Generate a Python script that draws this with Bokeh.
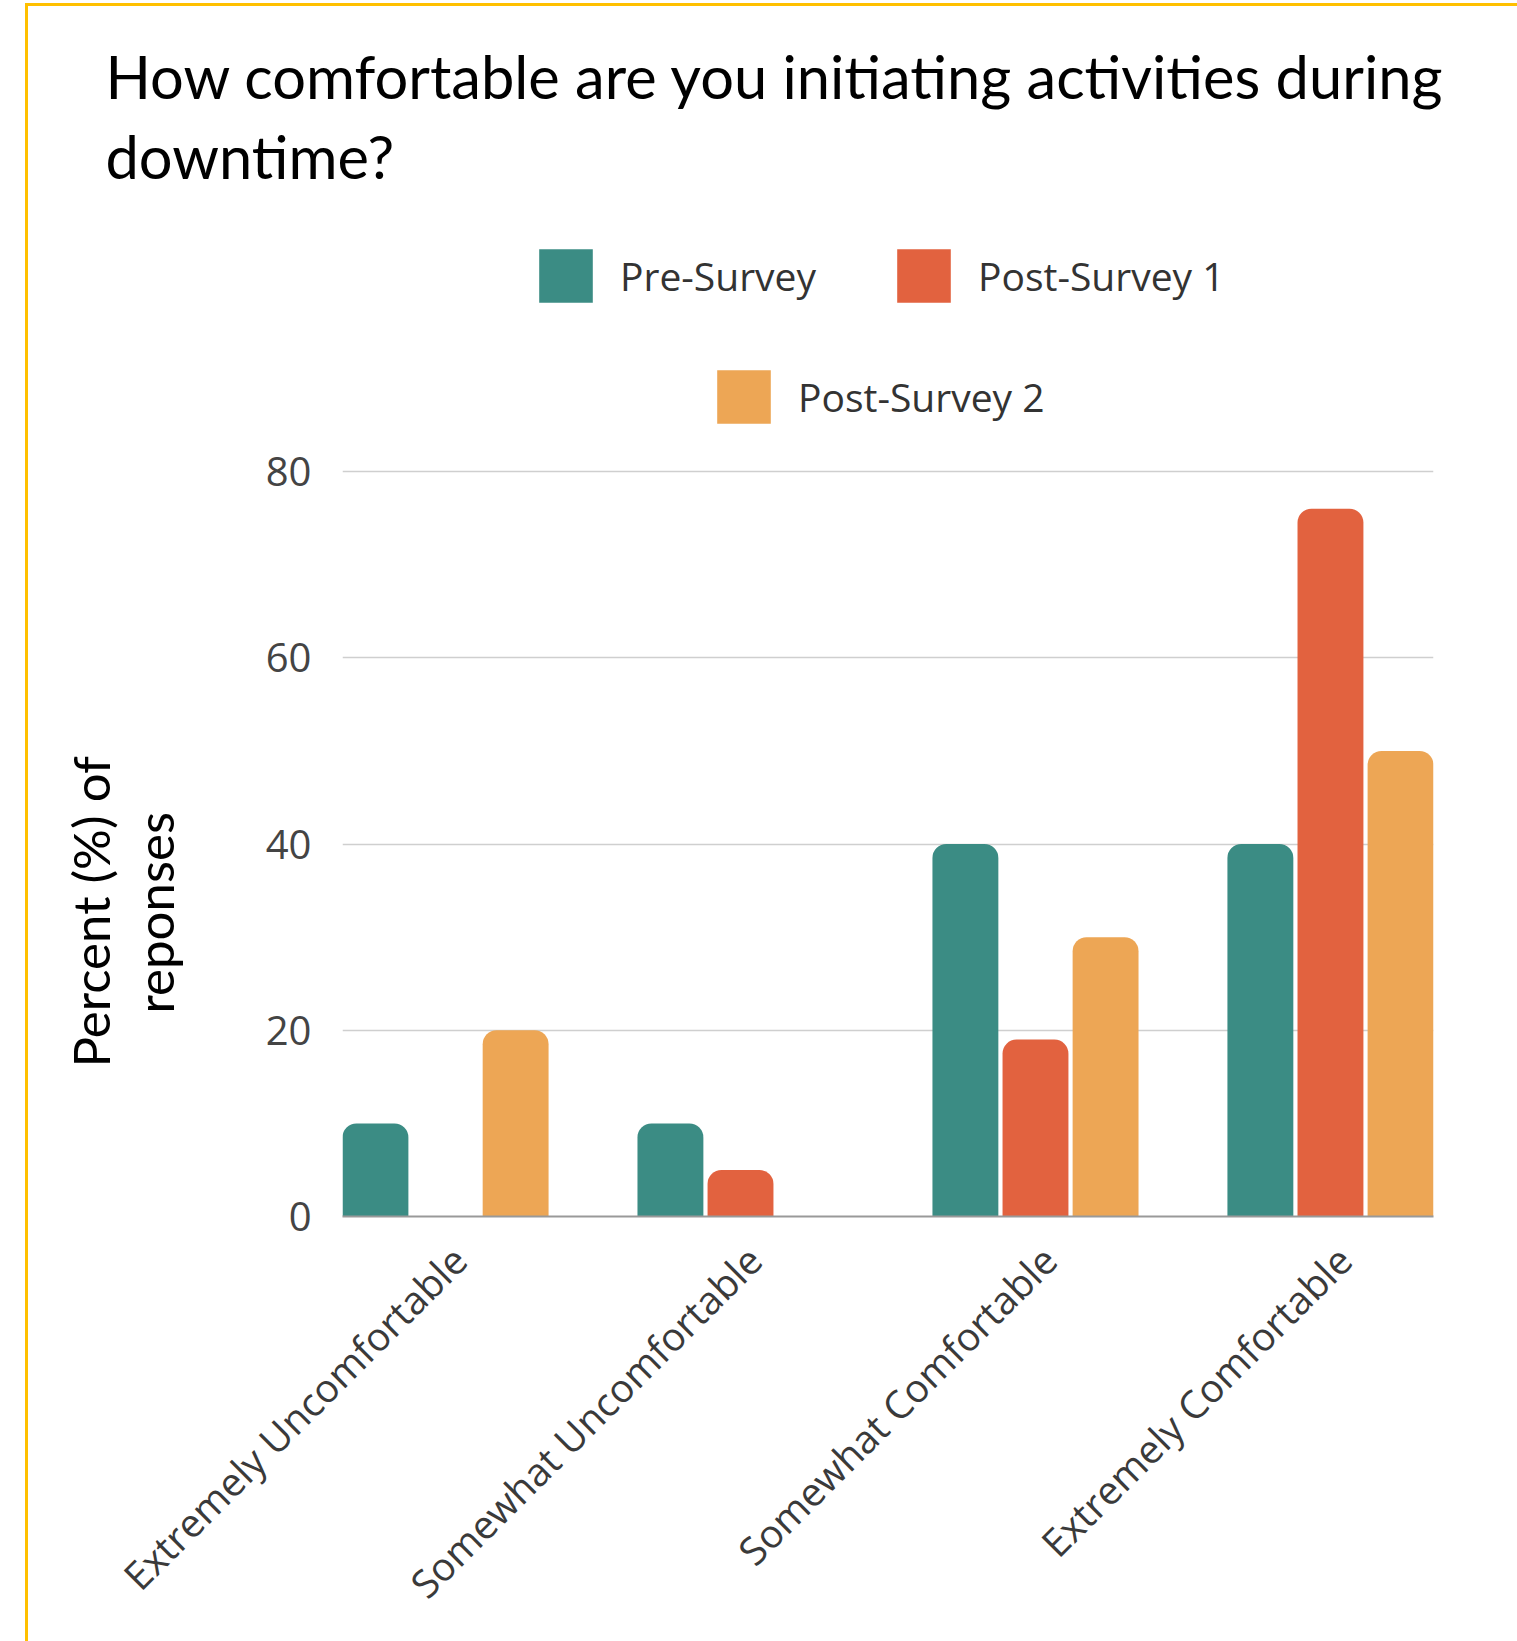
import math
from bokeh.plotting import figure
from bokeh.models import (Range1d, Legend, LegendItem, Title, FixedTicker,
                          ColumnDataSource, LinearAxis)
from bokeh.embed import file_html
from bokeh.resources import INLINE

# ---------------- data ----------------
categories = ["Extremely Uncomfortable", "Somewhat Uncomfortable",
              "Somewhat Comfortable", "Extremely Comfortable"]
series_names = ["Pre-Survey", "Post-Survey 1", "Post-Survey 2"]
pre_survey = [10, 10, 40, 40]
post_survey_1 = [0, 5, 19, 76]
post_survey_2 = [20, 0, 30, 50]
y_ticks = [0, 20, 40, 60, 80]
title_lines = ["How comfortable are you initiating activities during", "downtime?"]
y_label_lines = ["Percent (%) of", "reponses"]

colors = ["#3B8C84", "#E2623F", "#EDA655"]
values = [pre_survey, post_survey_1, post_survey_2]

# ---------------- layout constants ----------------
BAR_W = 0.2234
STEP = 0.2376
offsets = [-STEP, 0.0, STEP]
centers = [i + 0.5 for i in range(len(categories))]
x_pad = STEP + BAR_W / 2
X0, X1 = centers[0] - x_pad, centers[-1] + x_pad
LABEL_SHIFT = 0.046      # nudges rotated category labels to the right
FRAME_TOP = 200
FRAME_H = 1010
PX_PER_UNIT = 9.3125
Y_END = FRAME_H / PX_PER_UNIT

p = figure(frame_width=1091, frame_height=FRAME_H, output_backend="svg",
           toolbar_location=None, x_axis_location=None,
           x_range=Range1d(X0, X1), y_range=Range1d(0, Y_END),
           min_border_left=314, min_border_right=84, min_border_bottom=425,
           min_border_top=FRAME_TOP)
p.outline_line_color = None
p.background_fill_color = "white"
p.border_fill_color = "white"

renderers = []
for name, vals, col, off in zip(series_names, values, colors, offsets):
    src = ColumnDataSource(dict(x=[c + off for c in centers], top=vals))
    r = p.vbar(x="x", top="top", bottom=0, width=BAR_W, source=src,
               fill_color=col, line_color=None, border_radius=(14, 14, 0, 0))
    renderers.append(r)

# ---------------- x axis (category labels) ----------------
p.extra_x_ranges = {"labels": Range1d(X0 - LABEL_SHIFT, X1 - LABEL_SHIFT)}
xaxis = LinearAxis(x_range_name="labels", ticker=FixedTicker(ticks=centers))
xaxis.major_label_overrides = {c: lab for c, lab in zip(centers, categories)}
xaxis.major_label_orientation = math.pi / 4
xaxis.major_tick_line_color = None
xaxis.minor_tick_line_color = None
xaxis.major_tick_in = 0
xaxis.major_tick_out = 0
xaxis.axis_line_color = "#999999"
xaxis.axis_line_width = 2
xaxis.major_label_text_font = "Open Sans"
xaxis.major_label_text_font_size = "39px"
xaxis.major_label_text_color = "#3a3a3a"
xaxis.major_label_standoff = 36
p.add_layout(xaxis, "below")

# ---------------- y axis ----------------
p.yaxis.ticker = FixedTicker(ticks=y_ticks)
p.yaxis.axis_line_color = None
p.yaxis.major_tick_line_color = None
p.yaxis.minor_tick_line_color = None
p.yaxis.major_tick_out = 0
p.yaxis.major_tick_in = 0
p.yaxis.major_label_standoff = 31
p.yaxis.major_label_text_font = "Open Sans"
p.yaxis.major_label_text_font_size = "40px"
p.yaxis.major_label_text_color = "#444444"

p.xgrid.grid_line_color = None
p.ygrid.ticker = FixedTicker(ticks=y_ticks)
p.ygrid.grid_line_color = "#cfcfcf"
p.ygrid.grid_line_width = 1.5

# ---------------- legends (two rows, centered, inside top area) ----------------
def make_legend(idx, loc):
    return Legend(
        items=[LegendItem(label=series_names[i], renderers=[renderers[i]]) for i in idx],
        orientation="horizontal", location=loc,
        glyph_width=67, glyph_height=67, label_standoff=21, spacing=74,
        label_text_font="Open Sans", label_text_font_size="39px",
        label_text_color="#333333", border_line_color=None,
        background_fill_alpha=0, padding=0, margin=0)

p.add_layout(make_legend([0, 1], (190, FRAME_H - 36 - 67)))
p.add_layout(make_legend([2], (368, FRAME_H - 157 - 67)))

# ---------------- title (two lines) ----------------
p.add_layout(Title(text=title_lines[1], text_font="Lato", text_font_size="59.6px",
                   text_font_style="normal", text_color="black", align="left",
                   offset=-237, standoff=29), "above")
p.add_layout(Title(text=title_lines[0], text_font="Lato", text_font_size="59.6px",
                   text_font_style="normal", text_color="black", align="left",
                   offset=-237, standoff=-16), "above")

# ---------------- y-axis label (two lines) ----------------
p.add_layout(Title(text=y_label_lines[1], text_font="Lato", text_font_size="51px",
                   text_font_style="normal", text_color="black", align="left",
                   offset=203, standoff=156), "left")
p.add_layout(Title(text=y_label_lines[0], text_font="Lato", text_font_size="51px",
                   text_font_style="normal", text_color="black", align="left",
                   offset=149, standoff=-154), "left")

p.margin = (3, 0, 0, 25)
p.styles = {"border-top": "3px solid #FFC000", "border-left": "3px solid #FFC000"}

open("out.html", "w").write(file_html(p, INLINE))
